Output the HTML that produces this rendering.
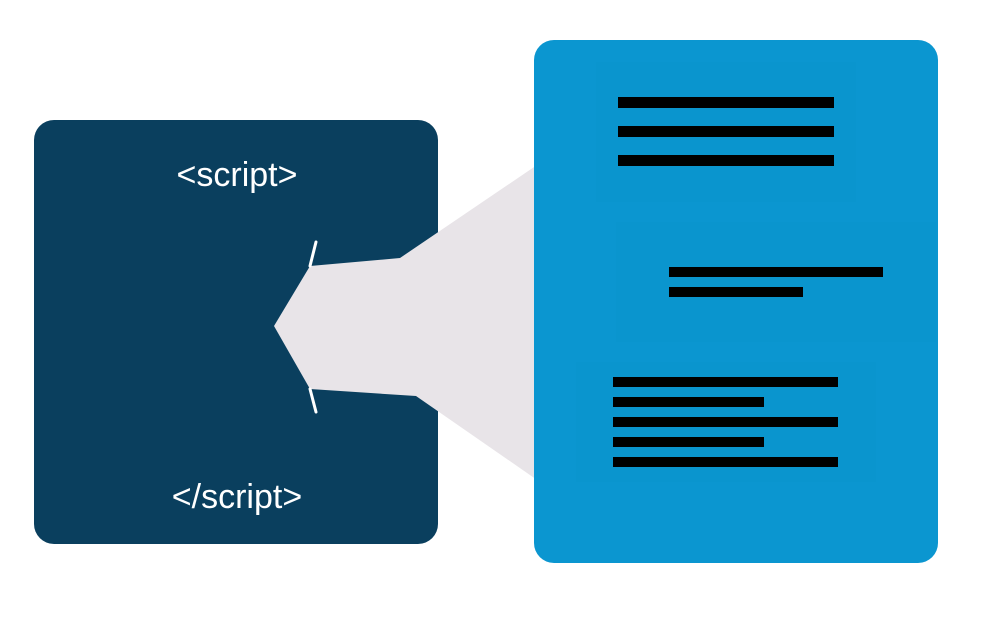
<!DOCTYPE html>
<html><head><style>
body{margin:0;background:#fff;width:992px;height:622px;overflow:hidden;font-family:"Liberation Sans",sans-serif}
</style></head><body>
<svg width="992" height="622" viewBox="0 0 992 622" xmlns="http://www.w3.org/2000/svg">
<rect x="34" y="120" width="404" height="424" rx="20" fill="#0a3f5e"/>
<text x="237" y="186" fill="#fff" font-size="34" text-anchor="middle" font-family="Liberation Sans, sans-serif">&lt;script&gt;</text>
<text x="237" y="508" fill="#fff" font-size="34" text-anchor="middle" font-family="Liberation Sans, sans-serif">&lt;/script&gt;</text>
<polygon points="274,326 310,266 400,258 540,163 540,482 416,396 310,389" fill="#e8e4e8"/>
<line x1="316" y1="242" x2="310" y2="266" stroke="#fff" stroke-width="3" stroke-linecap="round"/>
<line x1="316" y1="412" x2="310" y2="389" stroke="#fff" stroke-width="3" stroke-linecap="round"/>
<rect x="534" y="40" width="404" height="523" rx="20" fill="#0b96d0"/>
<rect x="596" y="62" width="260" height="140" fill="#0a95ce"/>
<rect x="616" y="222" width="320" height="120" fill="#0a95ce"/>
<rect x="576" y="362" width="300" height="120" fill="#0a95ce"/>
<g fill="#000">
<rect x="618" y="97" width="216" height="11"/>
<rect x="618" y="126" width="216" height="11"/>
<rect x="618" y="155" width="216" height="11"/>
<rect x="669" y="267" width="214" height="10"/>
<rect x="669" y="287" width="134" height="10"/>
<rect x="613" y="377" width="225" height="10"/>
<rect x="613" y="397" width="151" height="10"/>
<rect x="613" y="417" width="225" height="10"/>
<rect x="613" y="437" width="151" height="10"/>
<rect x="613" y="457" width="225" height="10"/>
</g>
</svg>
</body></html>
